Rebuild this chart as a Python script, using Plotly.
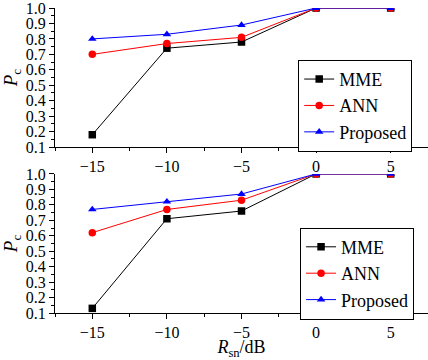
import plotly.graph_objects as go
from plotly.subplots import make_subplots

x_vals = [-15, -10, -5, 0, 5]
top_mme = [0.18, 0.74, 0.78, 1.0, 1.0]
top_ann = [0.70, 0.77, 0.81, 1.0, 1.0]
top_prop = [0.80, 0.83, 0.89, 1.0, 1.0]
bot_mme = [0.13, 0.71, 0.76, 1.0, 1.0]
bot_ann = [0.62, 0.77, 0.83, 1.0, 1.0]
bot_prop = [0.77, 0.82, 0.87, 1.0, 1.0]
names = ["MME", "ANN", "Proposed"]
colors = ["#000000", "#FF0000", "#0000FF"]
symbols = ["square", "circle", "triangle-up"]
y_ticks = [0.1, 0.2, 0.3, 0.4, 0.5, 0.6, 0.7, 0.8, 0.9, 1.0]
x_ticks = [-15, -10, -5, 0, 5]

FONT = "Liberation Serif, Times New Roman, serif"

fig = make_subplots(rows=2, cols=1, vertical_spacing=0.0)

for row, series, leg in [(1, [top_mme, top_ann, top_prop], "legend"),
                         (2, [bot_mme, bot_ann, bot_prop], "legend2")]:
    for name, ys, c, s in zip(names, series, colors, symbols):
        fig.add_trace(go.Scatter(
            x=x_vals, y=ys, name=name, mode="lines+markers",
            line=dict(color=c, width=1),
            marker=dict(symbol=s, size=7.5, color=c),
            legend=leg, cliponaxis=True,
        ), row=row, col=1)

axis_common = dict(showline=True, linecolor="black", linewidth=1, showgrid=False,
                   zeroline=False, ticks="outside", ticklen=5, tickcolor="black",
                   ticklabeloverflow="allow",
                   tickfont=dict(family=FONT, size=16, color="black"))

fig.update_layout(
    width=428, height=360,
    margin=dict(l=55, r=0, t=8, b=47),
    plot_bgcolor="white", paper_bgcolor="white",
    font=dict(family=FONT, color="black"),
    xaxis=dict(domain=[0, 1], range=[-17.5, 7.5], tickvals=x_ticks,
               minor=dict(dtick=2.5, tick0=0, ticks="outside", ticklen=3, tickcolor="black"),
               anchor="y", **axis_common),
    xaxis2=dict(domain=[0, 1], range=[-17.5, 7.5], tickvals=x_ticks,
                minor=dict(dtick=2.5, tick0=0, ticks="outside", ticklen=3, tickcolor="black"),
                anchor="y2",
                title=dict(text="<i>R</i><sub>sn</sub>/dB", font=dict(family=FONT, size=18), standoff=5),
                **axis_common),
    yaxis=dict(domain=[0.544, 1.0], range=[0.1, 1.0], tickvals=y_ticks, tickformat=".1f",
               minor=dict(dtick=0.05, tick0=0.05, ticks="outside", ticklen=3, tickcolor="black"),
               title=dict(text="<i>P</i><sub>c</sub>", font=dict(family=FONT, size=19), standoff=4),
               **axis_common),
    yaxis2=dict(domain=[0.0, 0.456], range=[0.1, 1.0], tickvals=y_ticks, tickformat=".1f",
                minor=dict(dtick=0.05, tick0=0.05, ticks="outside", ticklen=3, tickcolor="black"),
                title=dict(text="<i>P</i><sub>c</sub>", font=dict(family=FONT, size=19), standoff=4),
                **axis_common),
    legend=dict(x=0.652, y=0.83, xanchor="left", yanchor="top",
                bordercolor="black", borderwidth=1, bgcolor="white",
                font=dict(family=FONT, size=18), tracegroupgap=0),
    legend2=dict(x=0.657, y=0.28, xanchor="left", yanchor="top",
                 bordercolor="black", borderwidth=1, bgcolor="white",
                 font=dict(family=FONT, size=18), tracegroupgap=0),
)

fig.write_html("out.html")
